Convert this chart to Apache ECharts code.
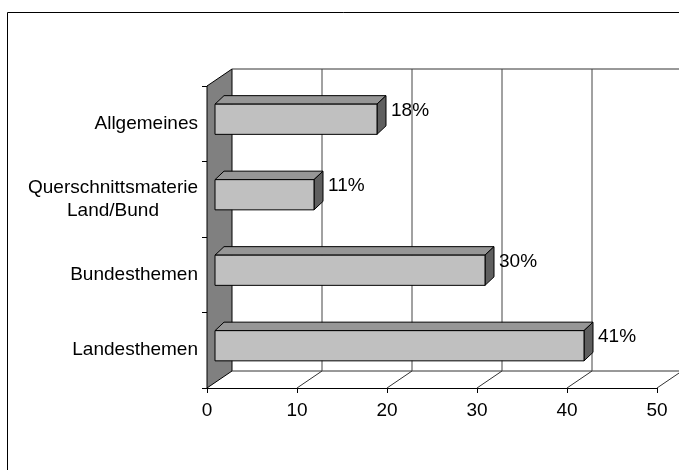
<!DOCTYPE html>
<html>
<head>
<meta charset="utf-8">
<script src="https://cdn.jsdelivr.net/npm/echarts@6/dist/echarts.min.js"></script>
<style>
  html, body { margin: 0; padding: 0; background: #fff; }
  #main { width: 679px; height: 470px; }
</style>
</head>
<body>
<div id="main"></div>
<script>
// categories from bottom to top (category axis starts at the bottom)
var categories = ['Landesthemen', 'Bundesthemen', 'Querschnittsmaterie\nLand/Bund', 'Allgemeines'];
var shares = [41, 30, 11, 18];
var xTicks = [0, 10, 20, 30, 40, 50];

// pseudo 3D offsets (pixels)
var WALL_DX = 25, WALL_DY = -17;   // depth of the chart box
var BAR_X0 = 8, BAR_Y0 = -4.5;      // bar front face behind the front plane
var BAR_DX = 9, BAR_DY = -8.5;      // bar depth
var FONT = '"Liberation Sans", Arial, sans-serif';
var FS = 19;

var chart = echarts.init(document.getElementById('main'));

function renderWalls(params, api) {
  var cs = params.coordSys;
  var top = cs.y, bottom = cs.y + cs.height;
  var left = cs.x;
  var kids = [];
  // side wall
  kids.push({
    type: 'polygon',
    shape: { points: [[left, top], [left + WALL_DX, top + WALL_DY], [left + WALL_DX, bottom + WALL_DY], [left, bottom]] },
    style: { fill: '#808080', stroke: '#000', lineWidth: 1 }
  });
  var xEnd = api.coord([xTicks[xTicks.length - 1], 0])[0];
  // back wall top edge
  kids.push({
    type: 'line',
    shape: { x1: left + WALL_DX, y1: top + WALL_DY, x2: xEnd + WALL_DX, y2: top + WALL_DY },
    style: { stroke: '#333', lineWidth: 1 }
  });
  // floor back edge
  kids.push({
    type: 'line',
    shape: { x1: left + WALL_DX, y1: bottom + WALL_DY, x2: xEnd + WALL_DX, y2: bottom + WALL_DY },
    style: { stroke: '#333', lineWidth: 1 }
  });
  xTicks.forEach(function (t) {
    if (t === 0) return;
    var x = api.coord([t, 0])[0];
    // back wall gridline
    kids.push({
      type: 'line',
      shape: { x1: x + WALL_DX, y1: top + WALL_DY, x2: x + WALL_DX, y2: bottom + WALL_DY },
      style: { stroke: '#444', lineWidth: 1 }
    });
    // floor line
    kids.push({
      type: 'line',
      shape: { x1: x, y1: bottom, x2: x + WALL_DX, y2: bottom + WALL_DY },
      style: { stroke: '#333', lineWidth: 1 }
    });
  });
  return { type: 'group', children: kids };
}

function renderBar(params, api) {
  var v = api.value(0);
  var cat = api.value(1);
  var base = api.coord([0, cat]);
  var end = api.coord([v, cat]);
  var band = api.size([0, 1])[1];
  var h = band * 0.4;
  var xL = base[0] + BAR_X0, xR = end[0] + BAR_X0;
  var y0 = end[1] + BAR_Y0 - h / 2, y1 = y0 + h;
  var line = { stroke: '#000', lineWidth: 1, lineJoin: 'round' };
  return {
    type: 'group',
    children: [
      { type: 'polygon', shape: { points: [[xL, y0], [xR, y0], [xR + BAR_DX, y0 + BAR_DY], [xL + BAR_DX, y0 + BAR_DY]] },
        style: Object.assign({ fill: '#969696' }, line) },
      { type: 'polygon', shape: { points: [[xR, y0], [xR + BAR_DX, y0 + BAR_DY], [xR + BAR_DX, y1 + BAR_DY], [xR, y1]] },
        style: Object.assign({ fill: '#5f5f5f' }, line) },
      { type: 'rect', shape: { x: xL, y: y0, width: xR - xL, height: h },
        style: Object.assign({ fill: '#c0c0c0' }, line) },
      { type: 'text', x: xR + BAR_DX + 5, y: end[1] - 13,
        style: { text: v + '%', fill: '#000', font: FS + 'px ' + FONT, textVerticalAlign: 'middle', textAlign: 'left' } }
    ]
  };
}

var option = {
  animation: false,
  backgroundColor: '#fff',
  graphic: [{
    type: 'rect',
    shape: { x: 7.5, y: 12.5, width: 700, height: 500 },
    style: { fill: 'none', stroke: '#000', lineWidth: 1 },
    z: 100
  }],
  grid: { left: 207, right: 22, top: 86, bottom: 82 },
  xAxis: {
    type: 'value',
    min: 0, max: 50, interval: 10,
    axisLine: { show: true, lineStyle: { color: '#000', width: 1 } },
    axisTick: { show: true, length: 5, lineStyle: { color: '#000' } },
    axisLabel: { color: '#000', fontSize: FS, fontFamily: FONT, margin: 13,
      formatter: function (v) { return xTicks.indexOf(v) >= 0 ? String(v) : ''; } },
    splitLine: { show: false }
  },
  yAxis: {
    type: 'category',
    data: categories,
    axisLine: { show: true, lineStyle: { color: '#000', width: 1 } },
    axisTick: { show: true, length: 5, lineStyle: { color: '#000' } },
    axisLabel: {
      color: '#000', fontSize: FS, fontFamily: FONT, margin: 9, lineHeight: 23, align: 'right',
      formatter: function (s) {
        return s.split('\n').map(function (l) { return '{c|' + l + '}'; }).join('\n');
      },
      rich: { c: { align: 'center', fontSize: FS, fontFamily: FONT, color: '#000', lineHeight: 23 } }
    },
    splitLine: { show: false }
  },
  series: [
    {
      type: 'custom',
      z: 1,
      renderItem: renderWalls,
      data: [[0, 0]],
      encode: { x: 0, y: 1 },
      silent: true
    },
    {
      type: 'custom',
      z: 3,
      renderItem: renderBar,
      data: shares.map(function (v, i) { return [v, i]; }),
      encode: { x: 0, y: 1 }
    }
  ]
};

chart.setOption(option);
</script>
</body>
</html>
